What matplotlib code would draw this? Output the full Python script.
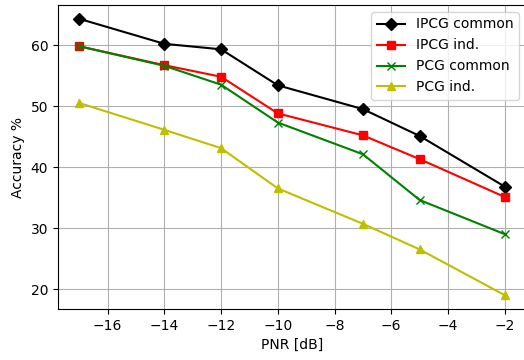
import matplotlib
matplotlib.use("Agg")
import matplotlib.pyplot as plt

pnr = [-17, -14, -12, -10, -7, -5, -2]
ipcg_common = [64.3, 60.2, 59.3, 53.4, 49.5, 45.1, 36.8]
ipcg_ind = [59.8, 56.7, 54.8, 48.8, 45.2, 41.3, 35.1]
pcg_common = [59.8, 56.6, 53.5, 47.3, 42.1, 34.6, 29.0]
pcg_ind = [50.5, 46.1, 43.1, 36.5, 30.7, 26.5, 19.0]

fig = plt.figure(figsize=(5.24, 3.6), dpi=100)
# axes run a little past the right edge, like the reference crop
ax = fig.add_axes([58/524, 51/360, 468/524, 304/360])

ax.plot(pnr, ipcg_common, 'k-D', label='IPCG common')
ax.plot(pnr, ipcg_ind, 'r-s', label='IPCG ind.')
ax.plot(pnr, pcg_common, 'g-x', label='PCG common')
ax.plot(pnr, pcg_ind, 'y-^', label='PCG ind.')

ax.set_xlabel('PNR [dB]')
ax.set_ylabel('Accuracy %')
ax.grid(True)
ax.legend(loc='upper right')

fig.savefig('out.png', dpi=100)
